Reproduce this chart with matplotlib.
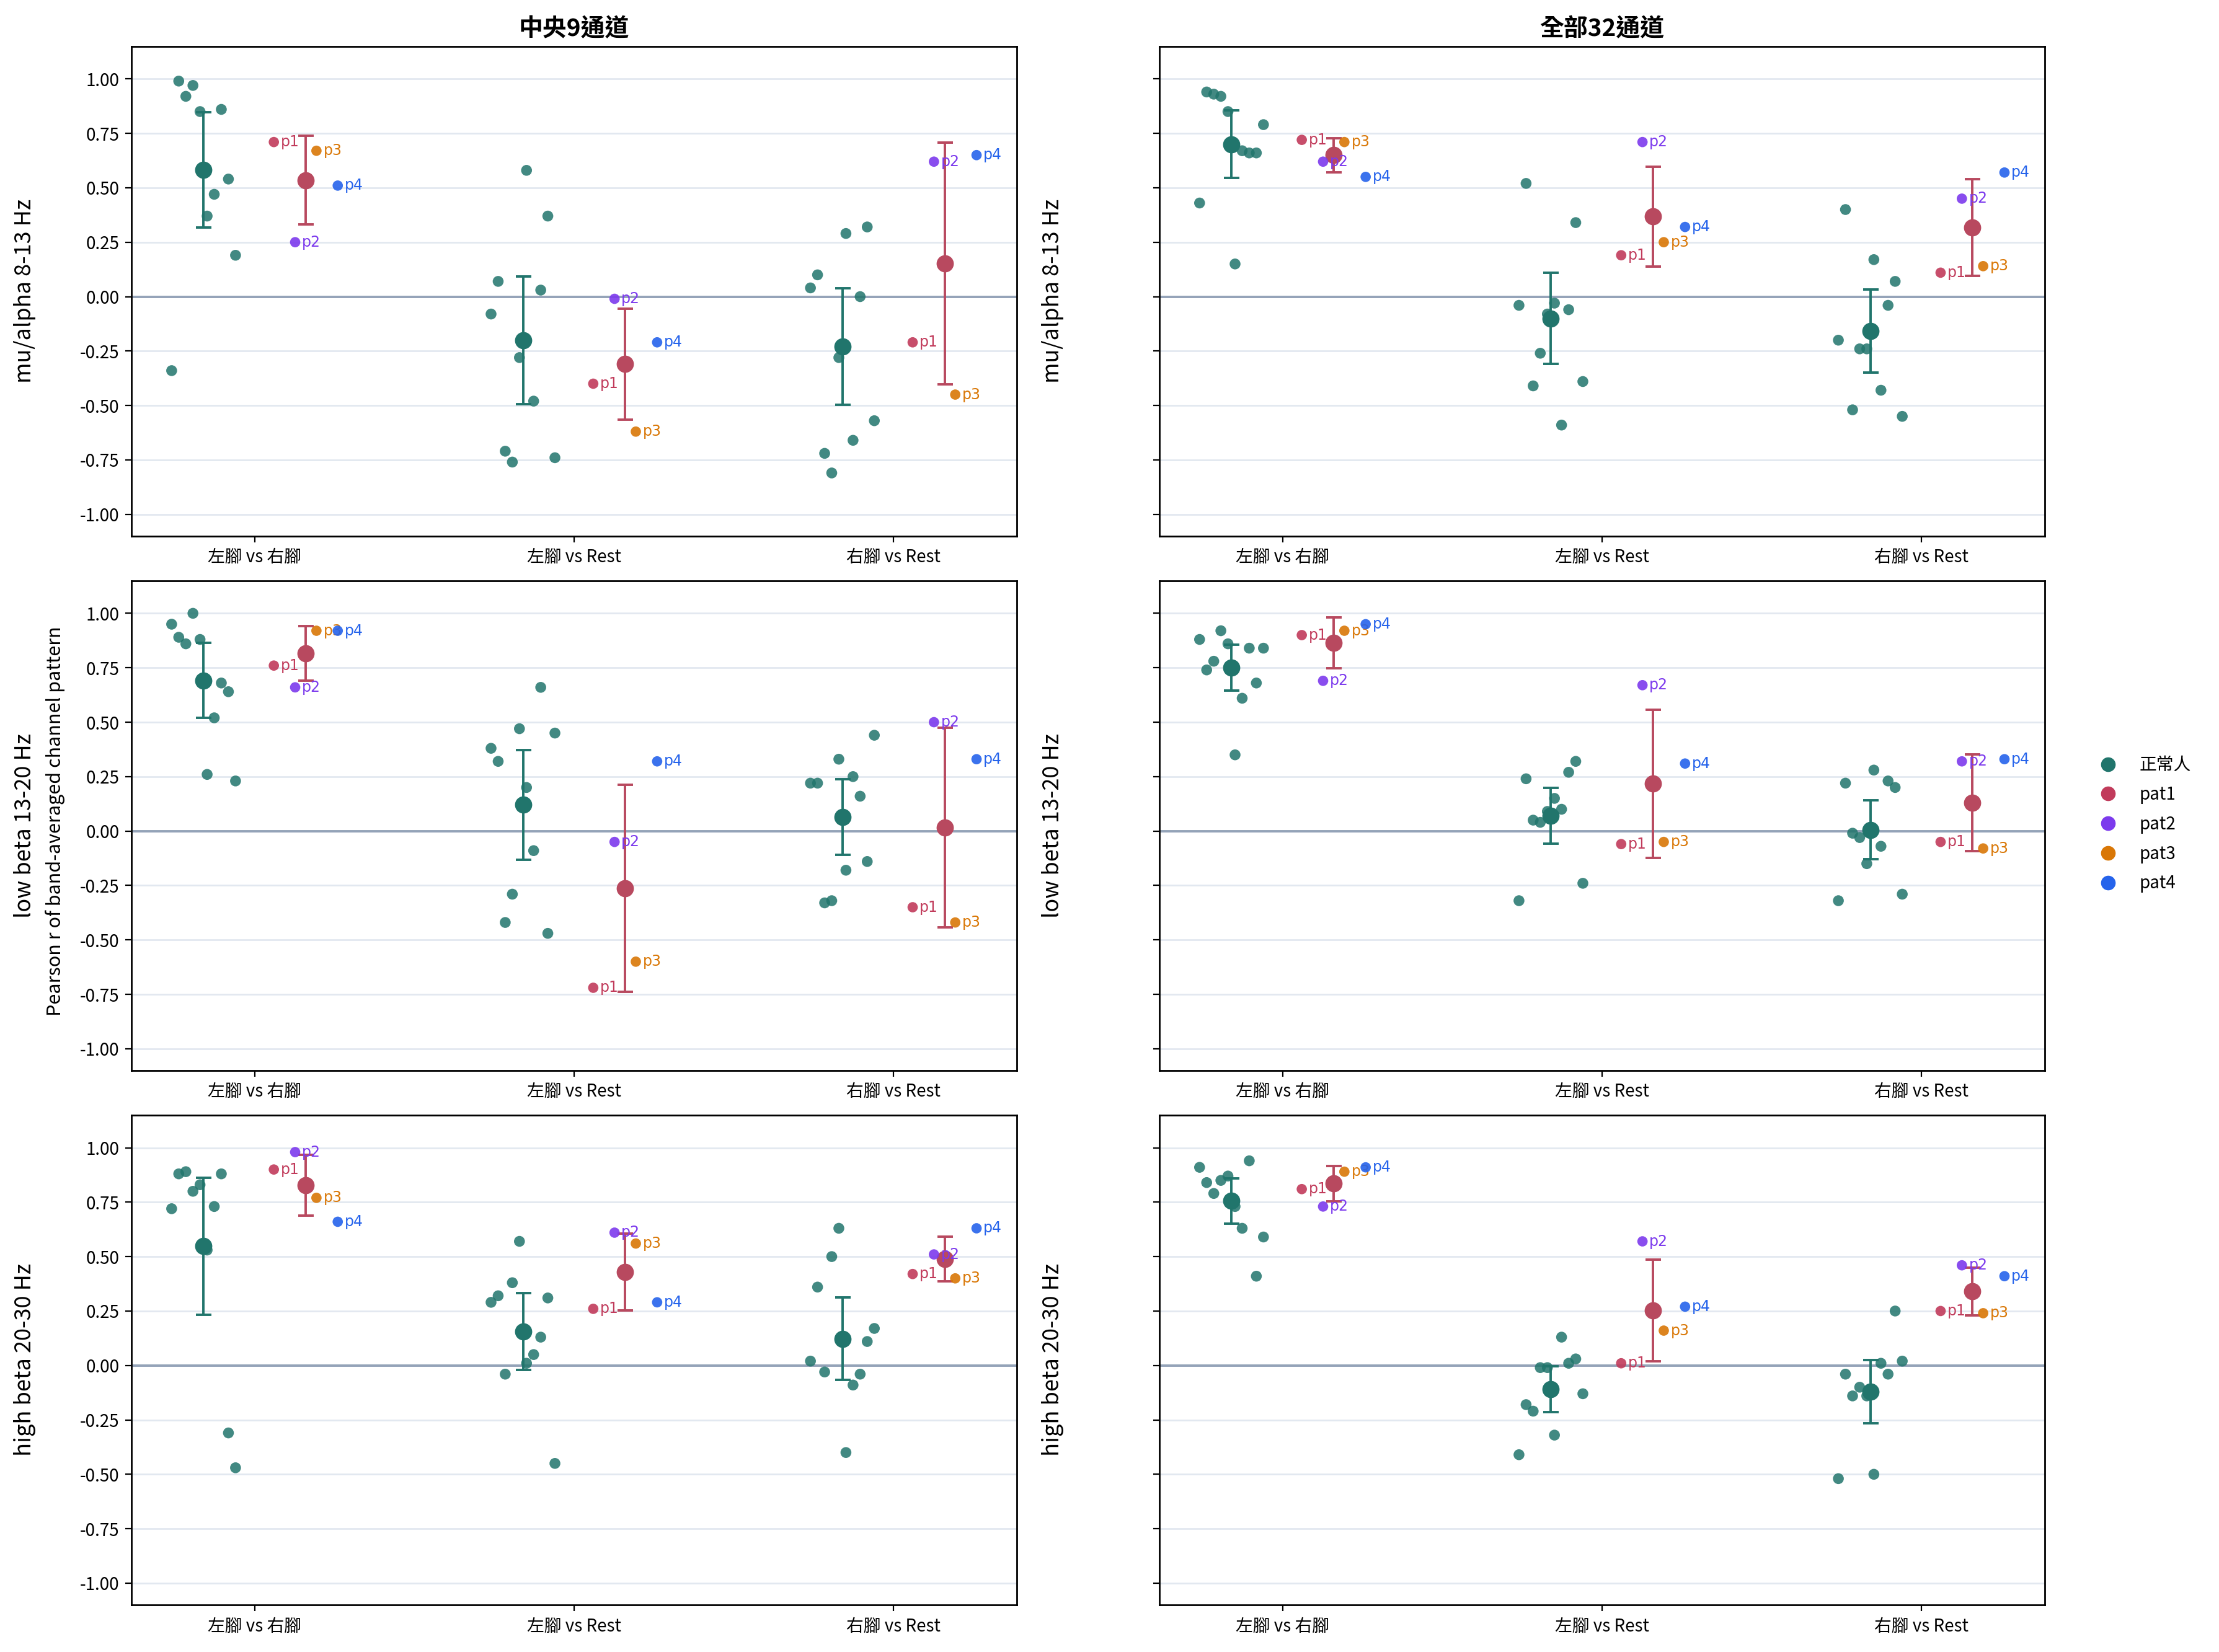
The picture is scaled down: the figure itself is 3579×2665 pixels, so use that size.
import numpy as np
import matplotlib.pyplot as plt
from matplotlib.lines import Line2D
from matplotlib.ticker import FormatStrFormatter

plt.rcParams['font.family'] = ['Noto Sans CJK TC', 'DejaVu Sans']
plt.rcParams['axes.unicode_minus'] = False

comparisons = ['左腳 vs 右腳', '左腳 vs Rest', '右腳 vs Rest']
regions = ['中央9通道', '全部32通道']
bands = ['mu/alpha 8-13 Hz', 'low beta 13-20 Hz', 'high beta 20-30 Hz']
patient_names = ['pat1', 'pat2', 'pat3', 'pat4']
patient_tags = ['p1', 'p2', 'p3', 'p4']

# healthy subjects (n=10), one list per comparison
c9_mu_healthy = [[-0.34, 0.99, 0.92, 0.97, 0.85, 0.37, 0.47, 0.86, 0.54, 0.19],
                 [-0.08, 0.07, -0.71, -0.76, -0.28, 0.58, -0.48, 0.03, 0.37, -0.74],
                 [0.04, 0.10, -0.72, -0.81, -0.28, 0.29, -0.66, 0.00, 0.32, -0.57]]
c9_lowbeta_healthy = [[0.95, 0.89, 0.86, 1.00, 0.88, 0.26, 0.52, 0.68, 0.64, 0.23],
                      [0.38, 0.32, -0.42, -0.29, 0.47, 0.20, -0.09, 0.66, -0.47, 0.45],
                      [0.22, 0.22, -0.33, -0.32, 0.33, -0.18, 0.25, 0.16, -0.14, 0.44]]
c9_highbeta_healthy = [[0.72, 0.88, 0.89, 0.80, 0.83, 0.53, 0.73, 0.88, -0.31, -0.47],
                       [0.29, 0.32, -0.04, 0.38, 0.57, 0.01, 0.05, 0.13, 0.31, -0.45],
                       [0.02, 0.36, -0.03, 0.50, 0.63, -0.40, -0.09, -0.04, 0.11, 0.17]]
a32_mu_healthy = [[0.43, 0.94, 0.93, 0.92, 0.85, 0.15, 0.67, 0.66, 0.66, 0.79],
                  [-0.04, 0.52, -0.41, -0.26, -0.08, -0.03, -0.59, -0.06, 0.34, -0.39],
                  [-0.20, 0.40, -0.52, -0.24, -0.24, 0.17, -0.43, -0.04, 0.07, -0.55]]
a32_lowbeta_healthy = [[0.88, 0.74, 0.78, 0.92, 0.86, 0.35, 0.61, 0.84, 0.68, 0.84],
                       [-0.32, 0.24, 0.05, 0.04, 0.09, 0.15, 0.10, 0.27, 0.32, -0.24],
                       [-0.32, 0.22, -0.01, -0.03, -0.15, 0.28, -0.07, 0.23, 0.20, -0.29]]
a32_highbeta_healthy = [[0.91, 0.84, 0.79, 0.85, 0.87, 0.73, 0.63, 0.94, 0.41, 0.59],
                        [-0.41, -0.18, -0.21, -0.01, -0.01, -0.32, 0.13, 0.01, 0.03, -0.13],
                        [-0.52, -0.04, -0.14, -0.10, -0.14, -0.50, 0.01, -0.04, 0.25, 0.02]]

# patients p1..p4, one list per comparison
c9_mu_pat = [[0.71, 0.25, 0.67, 0.51], [-0.40, -0.01, -0.62, -0.21], [-0.21, 0.62, -0.45, 0.65]]
c9_lowbeta_pat = [[0.76, 0.66, 0.92, 0.92], [-0.72, -0.05, -0.60, 0.32], [-0.35, 0.50, -0.42, 0.33]]
c9_highbeta_pat = [[0.90, 0.98, 0.77, 0.66], [0.26, 0.61, 0.56, 0.29], [0.42, 0.51, 0.40, 0.63]]
a32_mu_pat = [[0.72, 0.62, 0.71, 0.55], [0.19, 0.71, 0.25, 0.32], [0.11, 0.45, 0.14, 0.57]]
a32_lowbeta_pat = [[0.90, 0.69, 0.92, 0.95], [-0.06, 0.67, -0.05, 0.31], [-0.05, 0.32, -0.08, 0.33]]
a32_highbeta_pat = [[0.81, 0.73, 0.89, 0.91], [0.01, 0.57, 0.16, 0.27], [0.25, 0.46, 0.24, 0.41]]

healthy = [[c9_mu_healthy, a32_mu_healthy],
           [c9_lowbeta_healthy, a32_lowbeta_healthy],
           [c9_highbeta_healthy, a32_highbeta_healthy]]
patients = [[c9_mu_pat, a32_mu_pat],
            [c9_lowbeta_pat, a32_lowbeta_pat],
            [c9_highbeta_pat, a32_highbeta_pat]]

healthy_color = '#21756c'
pat_mean_color = '#b8495f'
pat_colors = ['#c13b5b', '#7c3aed', '#d97706', '#2563eb']


def ci95(v):
    return 1.96 * v.std(ddof=1) / np.sqrt(len(v))


fig, axes = plt.subplots(3, 2, figsize=(17.9, 13.325), dpi=200, sharey=True)
fig.subplots_adjust(left=0.0592, right=0.9212, bottom=0.0285, top=0.972,
                    wspace=0.161, hspace=0.091)

for r in range(3):
    for c in range(2):
        ax = axes[r, c]
        ax.axhline(0, color='#94a3b8', lw=1.4, zorder=1)
        for k in range(3):
            h = np.array(healthy[r][c][k])
            hx = k - 0.16 + np.linspace(-0.1, 0.1, len(h))
            ax.scatter(hx, h, s=40, color=healthy_color, alpha=0.85,
                       edgecolors='none', zorder=2)
            ax.errorbar(k - 0.16, h.mean(), yerr=ci95(h), fmt='o', ms=9,
                        color=healthy_color, capsize=4.5, elinewidth=1.4,
                        capthick=1.4, zorder=4)

            p = np.array(patients[r][c][k])
            px = k + 0.16 + np.linspace(-0.1, 0.1, len(p))
            ax.errorbar(k + 0.16, p.mean(), yerr=ci95(p), fmt='o', ms=9,
                        color=pat_mean_color, capsize=4.5, elinewidth=1.4,
                        capthick=1.4, zorder=4)
            for i in range(len(p)):
                ax.scatter(px[i], p[i], s=36, color=pat_colors[i], alpha=0.9,
                           edgecolors='none', zorder=5)
                ax.annotate(patient_tags[i], (px[i], p[i]), xytext=(4, 0),
                            textcoords='offset points', va='center', ha='left',
                            fontsize=8.5, color=pat_colors[i],
                            family='DejaVu Sans', zorder=5)

        ax.set_xticks(range(3))
        ax.set_xticklabels(comparisons, fontsize=10)
        ax.set_ylim(-1.1, 1.15)
        ax.set_yticks(np.arange(-1, 1.01, 0.25))
        ax.yaxis.set_major_formatter(FormatStrFormatter('%.2f'))
        ax.tick_params(axis='y', labelsize=10)
        ax.yaxis.grid(True, color='#e2e8f0', lw=1)
        ax.set_axisbelow(True)
        for s in ax.spines.values():
            s.set_linewidth(1.0)
        ax.set_ylabel(bands[r], fontsize=13)
        ax.yaxis.set_label_coords(-0.108, 0.5)
        if r == 0:
            ax.set_title(regions[c], fontsize=14, fontweight='bold')

fig.text(0.025, 0.503, 'Pearson r of band-averaged channel pattern',
         rotation=90, va='center', ha='center', fontsize=11)

handles = [Line2D([], [], ls='none', marker='o', ms=7.5, color=healthy_color)]
handles += [Line2D([], [], ls='none', marker='o', ms=7.5, color=col) for col in pat_colors]
fig.legend(handles, ['正常人'] + patient_names, loc='center left',
           bbox_to_anchor=(0.935, 0.501), frameon=False, fontsize=10,
           labelspacing=0.64)

fig.savefig('out.png', dpi=200)
